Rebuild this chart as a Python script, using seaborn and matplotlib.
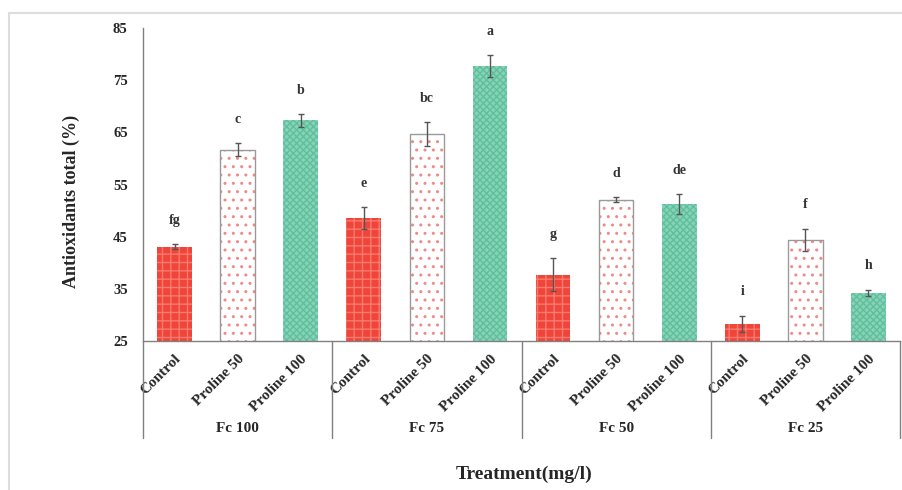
import matplotlib
matplotlib.use("Agg")
import matplotlib.pyplot as plt
from matplotlib.patches import Rectangle
from matplotlib.lines import Line2D
import seaborn as sns
import pandas as pd

# Fertiliser level groups and proline treatments
groups = ["Fc 100", "Fc 75", "Fc 50", "Fc 25"]
treatments = ["Control", "Proline 50", "Proline 100"]

# Total antioxidants (%) per group, in treatment order
control = [43.1, 48.5, 37.7, 28.3]
proline50 = [61.7, 64.6, 52.1, 44.4]
proline100 = [67.3, 77.7, 51.2, 34.2]

# Standard errors
control_err = [0.4, 2.1, 3.2, 1.5]
proline50_err = [1.2, 2.3, 0.5, 2.1]
proline100_err = [1.2, 2.1, 1.9, 0.6]

# Significance letters (Duncan groups)
control_sig = ["fg", "e", "g", "i"]
proline50_sig = ["c", "bc", "d", "f"]
proline100_sig = ["b", "a", "de", "h"]

yticks = [25, 35, 45, 55, 65, 75, 85]

rows = []
for gi, g in enumerate(groups):
    for t, vals, errs, sig in [
        ("Control", control, control_err, control_sig),
        ("Proline 50", proline50, proline50_err, proline50_sig),
        ("Proline 100", proline100, proline100_err, proline100_sig),
    ]:
        rows.append({"group": g, "treatment": t, "key": f"{g}|{t}",
                     "value": vals[gi], "err": errs[gi], "sig": sig[gi]})
df = pd.DataFrame(rows)

sns.set_theme(style="white")
serif = ["Liberation Serif", "DejaVu Serif"]
plt.rcParams["font.family"] = serif

fig = plt.figure(figsize=(9.02, 4.9), dpi=100)
ax = fig.add_axes([143 / 902, 1 - 341 / 490, (900 - 143) / 902, (341 - 28) / 490])

red = "#f0453a"
green = "#86d3b8"
palette = {"Control": red, "Proline 50": "white", "Proline 100": green}

sns.barplot(data=df, x="key", y="value", hue="treatment", palette=palette,
            width=0.55, legend=False, ax=ax, saturation=1, errorbar=None,
            bottom=0)

ax.set_ylim(25, 85)
ax.set_xlim(-0.5, len(df) - 0.5)

hatch_style = {
    "Control": ("++", "#f77a6e"),
    "Proline 50": ("..", "#ee8b86"),
    "Proline 100": ("xxxxx", "#5fbf9c"),
}

bars = [p for p in ax.patches if p.get_height() > 0]
bars.sort(key=lambda p: p.get_x())
plt.rcParams["hatch.linewidth"] = 0.6
for p, (_, r) in zip(bars, df.iterrows()):
    h, hc = hatch_style[r["treatment"]]
    p.set_hatch(h)
    p.set_edgecolor(hc)
    p.set_linewidth(0)
    if r["treatment"] == "Proline 50":
        ax.add_patch(Rectangle((p.get_x(), p.get_y()), p.get_width(), p.get_height(),
                               fill=False, edgecolor="#9a9a9a", linewidth=1.0, zorder=3))

centers = [p.get_x() + p.get_width() / 2 for p in bars]
ax.errorbar(centers, df["value"], yerr=df["err"], fmt="none", ecolor="#555555",
            elinewidth=1.0, capsize=2.5, capthick=1.0, zorder=4)

for x, (_, r) in zip(centers, df.iterrows()):
    ax.text(x, r["value"] + r["err"] + 4.6, r["sig"], ha="center", va="center",
            fontsize=10, color="#333333", fontweight="bold", family=serif)

# axes styling
for s in ["top", "right"]:
    ax.spines[s].set_visible(False)
ax.spines["left"].set_color("#808080")
ax.spines["bottom"].set_color("#808080")
ax.spines["left"].set_linewidth(1.0)
ax.spines["bottom"].set_linewidth(1.0)

ax.set_yticks(yticks)
ax.set_yticklabels([str(v) for v in yticks], fontsize=10.5, fontweight="bold", family=serif)
ax.tick_params(axis="y", length=0, pad=11)
ax.set_xticks(range(len(df)))
ax.set_xticklabels(df["treatment"], rotation=45, ha="right", rotation_mode="anchor",
                   fontsize=11, fontweight="bold", family=serif)
ax.tick_params(axis="x", length=0, pad=8)
ax.set_xlabel("")
ax.set_ylabel("Antioxidants total (%)", fontsize=13, fontweight="bold", family=serif)
ax.yaxis.set_label_coords(-(143 - 80) / (900 - 143), (341 - 201) / (341 - 28))

# group separators and group names below the axis
trans = ax.get_xaxis_transform()
sep_depth = -(438 - 341) / (341 - 28)
for i in range(len(groups) + 1):
    xpos = i * 3 - 0.5
    ax.add_line(Line2D([xpos, xpos], [0, sep_depth], transform=trans, color="#808080",
                       linewidth=1.0, clip_on=False))
for i, g in enumerate(groups):
    ax.text(i * 3 + 1, -(428 - 341) / (341 - 28), g, transform=trans, ha="center",
            va="center", fontsize=11, fontweight="bold", family=serif)

fig.text(524 / 902, 1 - 474 / 490, "Treatment(mg/l)", ha="center", va="center",
         fontsize=14, fontweight="bold", family=serif)

# light frame around the chart area
fig.add_artist(Line2D([9 / 902, 1.0], [1 - 13 / 490, 1 - 13 / 490], transform=fig.transFigure,
                      color="#dddddd", linewidth=1.5))
fig.add_artist(Line2D([9 / 902, 9 / 902], [0, 1 - 13 / 490], transform=fig.transFigure,
                      color="#dddddd", linewidth=1.5))

fig.savefig("out.png", dpi=100)
